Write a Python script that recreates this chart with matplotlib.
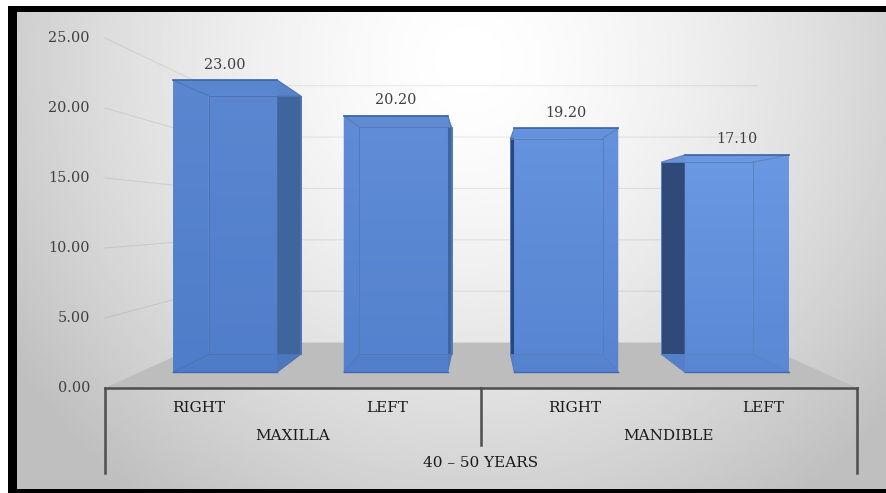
import numpy as np
import matplotlib
matplotlib.use('Agg')
import matplotlib.pyplot as plt
from matplotlib.patches import Polygon, Rectangle

# Mean values per site, 40 - 50 years
jaw_groups = ['MAXILLA', 'MANDIBLE']
side_labels = ['RIGHT', 'LEFT', 'RIGHT', 'LEFT']
age_label = '40 \u2013 50 YEARS'
values = [23.00, 20.20, 19.20, 17.10]
y_ticks = [0, 5, 10, 15, 20, 25]

W, H = 887, 493
BAR_WIDTH = 0.61
VAN_X, VAN_Y = 1.5, 12.2     # vanishing point in data units
S_WALL = 0.734
S_BAR_FRONT = 0.907
S_BAR_BACK = 0.803

plt.rcParams['font.family'] = ['DejaVu Serif']

fig = plt.figure(figsize=(W / 100, H / 100), dpi=100, facecolor='white')
ax = fig.add_axes([0, 0, 1, 1])
ax.axis('off')

# one category is 188 px wide, one value unit is 14 px tall
xlim = (-0.5 - 105 / 188, 3.5 + 30 / 188)
ylim = (-(H - 388) / 14, 388 / 14)


def proj(x, y, s):
    # perspective scaling towards the vanishing point
    return VAN_X + (x - VAN_X) * s, VAN_Y + (y - VAN_Y) * s


def poly(points, **kw):
    p = Polygon(points, closed=True, **kw)
    ax.add_patch(p)
    return p


# background with black frame on the left, top and bottom
px_x = lambda p: xlim[0] + p / W * (xlim[1] - xlim[0])
px_y = lambda p: ylim[1] - p / H * (ylim[1] - ylim[0])
ax.add_patch(Rectangle((px_x(8), px_y(493)), px_x(887) - px_x(8), px_y(6) - px_y(493),
                       fc='black', ec='none', zorder=0))
yy, xx = np.mgrid[0:1:200j, 0:1:360j]
dist = np.hypot((xx - 0.52) / 0.58, (yy - 0.1) / 1.05)
bg = 1.0 - 0.22 * np.clip(dist, 0, 1.1) ** 1.5
ax.imshow(bg, cmap='gray', vmin=0, vmax=1, aspect='auto', zorder=1,
          extent=(px_x(17), px_x(887), px_y(489), px_y(13)))

# floor
xl, xr = -0.5, 3.5
poly([proj(xl, 0, 1), proj(xr, 0, 1), proj(xr, 0, S_WALL), proj(xl, 0, S_WALL)],
     fc='#bdbdbd', ec='none', zorder=2)

# gridlines on the side walls and back wall
for t in y_ticks[1:]:
    pts = [proj(xl, t, 1), proj(xl, t, S_WALL), proj(xr, t, S_WALL)]
    ax.plot([p[0] for p in pts], [p[1] for p in pts], color='black', alpha=0.08, lw=0.8, zorder=2)

# bars
for i, v in enumerate(values):
    x0, x1 = i - BAR_WIDTH / 2, i + BAR_WIDTH / 2
    fbl, fbr = proj(x0, 0, S_BAR_FRONT), proj(x1, 0, S_BAR_FRONT)
    ftl, ftr = proj(x0, v, S_BAR_FRONT), proj(x1, v, S_BAR_FRONT)
    bbl, bbr = proj(x0, 0, S_BAR_BACK), proj(x1, 0, S_BAR_BACK)
    btl, btr = proj(x0, v, S_BAR_BACK), proj(x1, v, S_BAR_BACK)

    light = i / 3
    front_top = np.array([0.36, 0.53, 0.82]) + light * np.array([0.06, 0.07, 0.07])
    front_bot = np.array([0.31, 0.49, 0.79]) + light * np.array([0.04, 0.04, 0.04])
    inner = tuple(front_top * 0.96)
    edge = tuple(front_top * 0.85)

    # faces behind the front panel
    poly([bbl, bbr, btr, btl], fc=front_top, ec='none', zorder=3)
    out_left = '#2f4a78' if i == 3 else ('#27477f' if i == 2 else inner)
    out_right = '#3f659f' if i < 2 else inner
    poly([fbl, bbl, btl, ftl], fc=out_left, ec='none', zorder=3)
    poly([fbr, bbr, btr, ftr], fc=out_right, ec='none', zorder=3)
    poly([fbl, fbr, bbr, bbl], fc=tuple(front_bot * 0.95), ec='none', zorder=3)
    poly([ftl, ftr, btr, btl], fc=inner, ec='none', zorder=3)

    # translucent front panel with a vertical gradient
    panel = poly([fbl, fbr, ftr, ftl], fc='none', ec='none', zorder=4)
    grad = np.linspace(0, 1, 64)[:, None, None] * (front_top - front_bot) + front_bot
    img = ax.imshow(grad, origin='lower', aspect='auto', alpha=0.9, zorder=4,
                    extent=(fbl[0], fbr[0], fbl[1], ftl[1]))
    img.set_clip_path(panel)

    # inner edges seen through the panel
    for a, b in [(bbl, bbr), (bbr, btr), (btr, btl), (btl, bbl),
                 (fbl, bbl), (fbr, bbr), (ftl, btl), (ftr, btr)]:
        ax.plot([a[0], b[0]], [a[1], b[1]], color=edge, lw=0.7, zorder=5)
    ax.plot([ftl[0], ftr[0]], [ftl[1], ftr[1]], color='#3a639f', lw=1.2, zorder=5)
    ax.plot([fbl[0], fbr[0]], [fbl[1], fbr[1]], color='#3f69ad', lw=1.0, zorder=5)

    # value label
    lx, ly = proj(i, v, S_BAR_FRONT)
    ax.text(lx, ly + 15.5 / 14, f'{v:.2f}', ha='center', va='center', fontsize=10.4,
            color='#404040', zorder=6)

# y tick labels
for t in y_ticks:
    ax.text(-0.5 - 15 / 188, t, f'{t:.2f}', ha='right', va='center', fontsize=10.4,
            color='#404040', zorder=6)

# multi-level category axis
ax.plot([xl, xr], [0, 0], color='#4d4d4d', lw=1.8, zorder=6)
ax.plot([xl, xl], [0, -6.1], color='#4d4d4d', lw=1.8, zorder=6)
ax.plot([xr, xr], [0, -6.1], color='#4d4d4d', lw=1.8, zorder=6)
ax.plot([1.5, 1.5], [0, -4.05], color='#4d4d4d', lw=1.8, zorder=6)

for i, s in enumerate(side_labels):
    ax.text(i, -1.45, s, ha='center', va='center', fontsize=11, color='#1a1a1a', zorder=6)
for c, s in zip([0.5, 2.5], jaw_groups):
    ax.text(c, -3.43, s, ha='center', va='center', fontsize=11, color='#1a1a1a', zorder=6)
ax.text(1.5, -5.35, age_label, ha='center', va='center', fontsize=11, color='#1a1a1a', zorder=6)

ax.set_xlim(*xlim)
ax.set_ylim(*ylim)
fig.savefig('out.png', dpi=100)
